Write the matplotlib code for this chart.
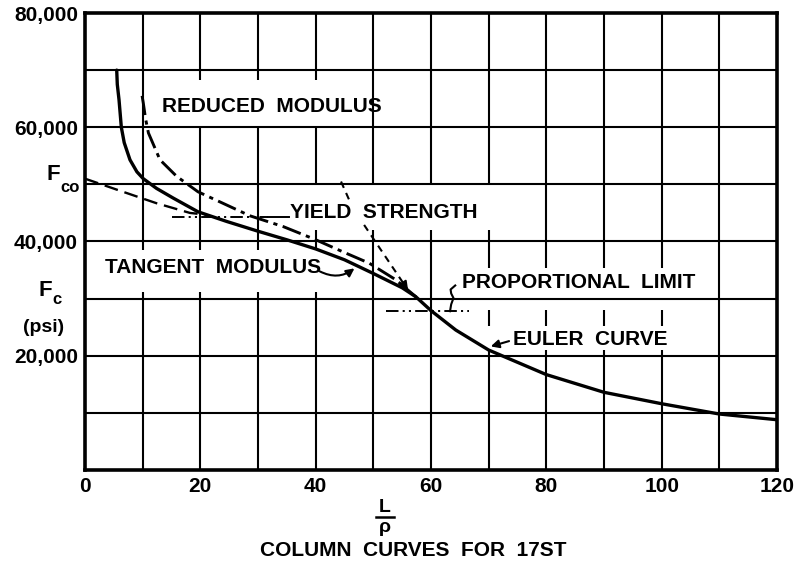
import matplotlib
matplotlib.use("Agg")
import matplotlib.pyplot as plt
from matplotlib.patches import Rectangle
from matplotlib.lines import Line2D

# Column curves for 17ST: slenderness ratio L/rho against column stress Fc (psi)
tangent_x = [5.5, 5.6, 5.9, 6.3, 6.8, 7.8, 9.0, 10.1, 12.4, 15.3, 19.6, 24.6,
             30.0, 35.0, 40.0, 45.0, 50.0, 55.0, 57.4, 60.0]
tangent_psi = [70000, 67500, 64800, 60000, 57300, 54300, 52200, 51000, 49300, 47600, 45200, 43500,
               41800, 40300, 38700, 36800, 34400, 31900, 30300, 27900]

reduced_x = [9.9, 10.1, 10.5, 11.0, 13.0, 15.9, 19.6, 23.9, 28.6, 34.4, 39.8, 44.7, 49.3, 53.9, 57.4]
reduced_psi = [65500, 64300, 61500, 59000, 54300, 51400, 48700, 46700, 44500, 42600, 40400, 38200,
               36200, 33300, 30300]

euler_x = [60.0, 64.3, 70.0, 80.0, 90.0, 100.0, 110.0, 120.0]
euler_psi = [27900, 24500, 21000, 16700, 13600, 11600, 9800, 8800]

# straight line from Fco, tangent to the tangent modulus curve
fco_x = [0.0, 6.6, 12.4, 18.2, 21.0]
fco_psi = [51000, 48700, 46700, 45000, 44700]

yield_x = [15.0, 31.7]
yield_psi = 44300
prop_limit_x = [52.2, 66.6]
prop_limit_psi = 27800

x_ticks = [0, 20, 40, 60, 80, 100, 120]
y_ticks = [20000, 40000, 60000, 80000]
y_tick_labels = ["20,000", "40,000", "60,000", "80,000"]


def draw_chart(file_path):
    plt.rcParams["font.family"] = ["Liberation Sans", "DejaVu Sans"]
    plt.rcParams["font.weight"] = "bold"
    plt.rcParams["lines.scale_dashes"] = False

    fig = plt.figure(figsize=(8.03, 5.65), dpi=100)
    ax = fig.add_axes([85 / 803, 95 / 565, 692 / 803, 457 / 565])
    ax.set_xlim(0, 120)
    ax.set_ylim(0, 80000)

    # vertical grid under the white label patches, horizontal grid over them
    ax.vlines(range(10, 120, 10), 0, 80000, color="black", lw=1.5, zorder=1)
    label_boxes = [
        (11.0, 49.5, 60100, 68300),   # reduced modulus
        (36.0, 72.0, 42000, 50000),   # yield strength
        (1.0, 42.0, 31200, 38500),    # tangent modulus
        (64.5, 107.0, 28000, 35400),  # proportional limit
        (69.0, 102.0, 21000, 25200),  # euler curve
    ]
    for x0, x1, y0, y1 in label_boxes:
        ax.add_patch(Rectangle((x0, y0), x1 - x0, y1 - y0, facecolor="white",
                               edgecolor="none", zorder=1.5))
    ax.hlines(range(10000, 80000, 10000), 0, 120, color="black", lw=1.5, zorder=2)

    for spine in ax.spines.values():
        spine.set_linewidth(2.6)
        spine.set_zorder(5)

    # curves
    ax.plot(tangent_x, tangent_psi, color="black", lw=2.4, zorder=4,
            solid_joinstyle="round", solid_capstyle="round")
    ax.plot(euler_x, euler_psi, color="black", lw=2.4, zorder=4,
            solid_joinstyle="round", solid_capstyle="round")
    ax.plot(reduced_x, reduced_psi, color="black", lw=2.1, zorder=4, linestyle=(0, (14, 4, 3, 4)))
    ax.plot(fco_x, fco_psi, color="black", lw=1.7, zorder=4, linestyle=(0, (10, 5)))
    ax.plot(yield_x, [yield_psi] * 2, color="black", lw=1.4, zorder=4,
            linestyle=(0, (9, 3, 1.5, 3, 1.5, 3)))
    ax.plot([31.7, 35.3], [yield_psi, yield_psi], color="black", lw=1.4, zorder=4)
    ax.plot(prop_limit_x, [prop_limit_psi] * 2, color="black", lw=1.4, zorder=4,
            linestyle=(0, (9, 3, 1.5, 3, 1.5, 3)))

    # labels
    txt = dict(fontsize=15, fontweight="bold", va="center", ha="left", zorder=6)
    ax.text(13.3, 63600, "REDUCED  MODULUS", **txt)
    ax.text(35.5, 45000, "YIELD  STRENGTH", **txt)
    ax.text(3.5, 35400, "TANGENT  MODULUS", **txt)
    ax.text(65.4, 32750, "PROPORTIONAL  LIMIT", **txt)
    ax.text(74.2, 22800, "EULER  CURVE", **txt)

    # leaders
    arrow = dict(arrowstyle="-|>", color="black", lw=1.5, mutation_scale=12)
    ax.annotate("", xy=(47.1, 35600), xytext=(40.3, 35000),
                arrowprops=dict(arrow, connectionstyle="arc3,rad=0.35"), zorder=6)
    ax.annotate("", xy=(69.9, 21500), xytext=(74.0, 22700), arrowprops=arrow, zorder=6)
    ax.plot([44.4, 45.8], [50500, 47300], color="black", lw=1.5, zorder=4, linestyle=(0, (5, 4)))
    ax.plot([48.4, 55.4], [42900, 32400], color="black", lw=1.5, zorder=4, linestyle=(0, (5, 4)))
    ax.annotate("", xy=(56.3, 31100), xytext=(55.0, 33000), arrowprops=arrow, zorder=6)
    ax.plot([64.2, 63.4, 63.5, 63.9, 63.5, 63.3], [32300, 31600, 30900, 30100, 29000, 27800],
            color="black", lw=1.5, zorder=4)

    # axis ticks and titles
    ax.set_xticks(x_ticks)
    ax.set_xticklabels([str(v) for v in x_ticks], fontsize=15, fontweight="bold")
    ax.set_yticks(y_ticks)
    ax.set_yticklabels(y_tick_labels, fontsize=15, fontweight="bold")
    ax.tick_params(length=0, pad=5)

    side = dict(fontweight="bold", zorder=6, clip_on=False)
    ax.text(-5.5, 51700, "F", fontsize=16, ha="center", va="center", **side)
    ax.text(-4.3, 49500, "co", fontsize=12, ha="left", va="center", **side)
    ax.text(-6.85, 31500, "F", fontsize=16, ha="center", va="center", **side)
    ax.text(-5.6, 29900, "c", fontsize=12, ha="left", va="center", **side)
    ax.text(-7.1, 24900, "(psi)", fontsize=14, ha="center", va="center", **side)

    # L over rho, written as a stacked fraction
    fig.text(385 / 803, 1 - 507 / 565, "L", fontsize=14, fontweight="bold", ha="center", va="center")
    fig.add_artist(Line2D([376 / 803, 394 / 803], [1 - 517 / 565] * 2, color="black", lw=1.8))
    fig.text(385 / 803, 1 - 528 / 565, "\u03c1", fontsize=14, fontweight="bold", ha="center",
             va="center")
    fig.text(413 / 803, 1 - 551 / 565, "COLUMN  CURVES  FOR  17ST", fontsize=15,
             fontweight="bold", ha="center", va="center")

    fig.savefig(file_path, dpi=100, facecolor="white")
    plt.close(fig)


if __name__ == "__main__":
    draw_chart("out.png")
